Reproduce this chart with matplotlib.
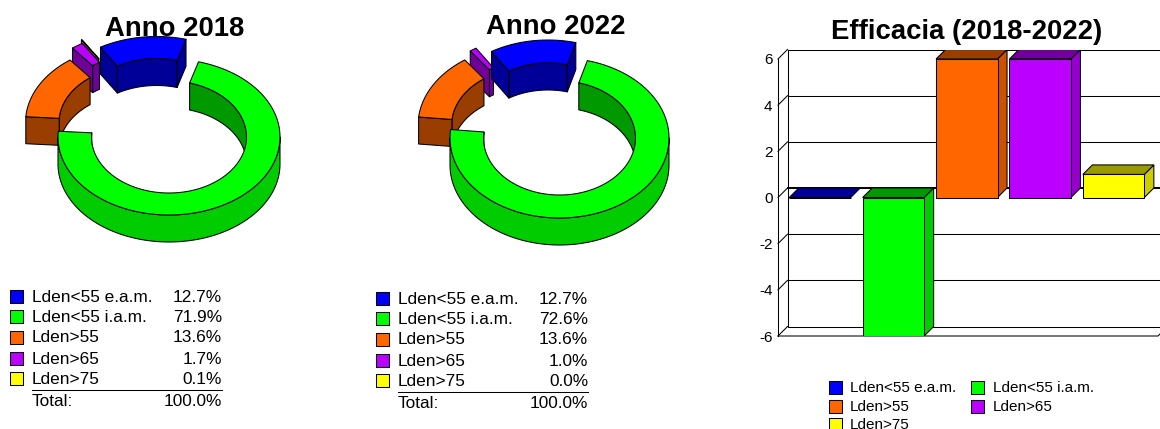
import matplotlib
matplotlib.use("Agg")
import matplotlib.pyplot as plt
import numpy as np
from matplotlib.patches import Polygon, Rectangle

plt.rcParams["font.family"] = ["Liberation Sans", "DejaVu Sans"]

labels = ["Lden<55 e.a.m.", "Lden<55 i.a.m.", "Lden>55", "Lden>65", "Lden>75"]
share_2018 = [12.7, 71.9, 13.6, 1.7, 0.1]
share_2022 = [12.7, 72.6, 13.6, 1.0, 0.0]
total_2018 = "100.0%"
total_2022 = "100.0%"
efficacy = [0.0, -6.0, 6.0, 6.0, 1.0]
y_ticks = [-6, -4, -2, 0, 2, 4, 6]
colors = ["#0000FF", "#00FF00", "#FF6600", "#BB00FF", "#FFFF00"]

W, H = 1160, 429
DEPTH = 27
LW = 0.75


def shade(col, k):
    return tuple(c * k for c in matplotlib.colors.to_rgb(col))


def arc(cx, cy, rx, ry, t0, t1, dy=0):
    # angles in degrees, clockwise from the top of the ellipse
    t = np.radians(np.linspace(t0, t1, max(2, int(abs(t1 - t0) * 2))))
    return np.column_stack([cx + rx * np.sin(t), cy - ry * np.cos(t) + dy])


def poly(ax, pts, fc, z):
    ax.add_patch(Polygon(pts, closed=True, fc=fc, ec="black", lw=LW, zorder=z, joinstyle="round"))


def draw_slice(ax, c, t0, t1, radii, col, z):
    cx, cy = c
    rx, ry, ix, iy = radii
    dark = shade(col, 0.6)
    # inner wall shows where it faces the viewer (top half of the ring)
    n = np.floor((t0 + 90) / 360)
    for k in (n - 1, n, n + 1):
        a, b = max(t0, 360 * k - 90), min(t1, 360 * k + 90)
        if b > a:
            poly(ax, np.vstack([arc(cx, cy, ix, iy, a, b), arc(cx, cy, ix, iy, b, a, DEPTH)]), dark, z)
    # end caps
    if np.sin(np.radians(t0)) < 0:
        p = np.vstack([arc(cx, cy, rx, ry, t0, t0)[:1], arc(cx, cy, ix, iy, t0, t0)[:1]])
        poly(ax, np.vstack([p, p[::-1] + [0, DEPTH]]), dark, z)
    if np.sin(np.radians(t1)) > 0:
        p = np.vstack([arc(cx, cy, rx, ry, t1, t1)[:1], arc(cx, cy, ix, iy, t1, t1)[:1]])
        poly(ax, np.vstack([p, p[::-1] + [0, DEPTH]]), dark, z)
    # outer wall (front half)
    a, b = max(t0, 90), min(t1, 270)
    if b > a:
        poly(ax, np.vstack([arc(cx, cy, rx, ry, a, b), arc(cx, cy, rx, ry, b, a, DEPTH)]), shade(col, 0.8), z)
    poly(ax, np.vstack([arc(cx, cy, rx, ry, t0, t1), arc(cx, cy, ix, iy, t1, t0)]), col, z)


def draw_donut(ax, shares, start, centres, radii, order):
    spans = []
    t = start
    for v in shares:
        spans.append((t, t + v * 3.6))
        t += v * 3.6
    for z, i in enumerate(order):
        if shares[i] <= 0:
            continue
        draw_slice(ax, centres[i], spans[i][0], spans[i][1], radii, colors[i], 5 + z)


def draw_legend(ax, shares, total, sq_x, txt_x, right, rows, rule_y, total_y):
    for i, lab in enumerate(labels):
        ax.add_patch(Rectangle((sq_x, rows[i] - 6.5), 13, 13, fc=colors[i], ec="black", lw=LW))
        ax.text(txt_x, rows[i] + 1, lab, fontsize=12.4, va="center", ha="left")
        ax.text(right, rows[i] + 1, f"{shares[i]:.1f}%", fontsize=12.4, va="center", ha="right")
    ax.plot([txt_x, right], [rule_y, rule_y], color="black", lw=LW)
    ax.text(txt_x, total_y + 1, "Total:", fontsize=12.4, va="center", ha="left")
    ax.text(right, total_y + 1, total, fontsize=12.4, va="center", ha="right")


fig = plt.figure(figsize=(W / 100, H / 100), dpi=100)
ax = fig.add_axes([0, 0, 1, 1])
ax.set_xlim(0, W)
ax.set_ylim(H, 0)
ax.axis("off")

ax.text(174.5, 29, "Anno 2018", fontsize=19.8, fontweight="bold", ha="center", va="center", zorder=1)
ax.text(556, 27, "Anno 2022", fontsize=19.8, fontweight="bold", ha="center", va="center", zorder=1)
ax.text(966.5, 32, "Efficacia (2018-2022)", fontsize=19.8, fontweight="bold", ha="center", va="center", zorder=1)

# one exploded centre per slice, back to front: blue, yellow, purple, orange, green
draw_donut(ax, share_2018, -30.3,
           [(156.5, 114.5), (169, 137), (136.5, 122.5), (139, 110.5), (138, 107)],
           (111, 78, 77.5, 56), [4, 3, 0, 2, 1])
draw_donut(ax, share_2022, -31,
           [(548, 120), (559.5, 138), (527.5, 125.5), (533, 116.5), (533, 114)],
           (109.5, 80, 76, 57), [4, 3, 0, 2, 1])

draw_legend(ax, share_2018, total_2018, 10, 32, 222, [296, 316, 337, 358, 378], 390, 401)
draw_legend(ax, share_2022, total_2022, 376, 398, 588, [298, 318, 339, 360, 380], 392, 403)

sq_x = [829, 971, 829, 971, 829]
tx_x = [850, 993, 850, 993, 850]
rows3 = [387, 387, 406, 406, 424]
for i, lab in enumerate(labels):
    ax.add_patch(Rectangle((sq_x[i], rows3[i] - 6.5), 13, 13, fc=colors[i], ec="black", lw=LW))
    ax.text(tx_x[i], rows3[i] + 1, lab, fontsize=11, va="center", ha="left")

# bar chart: axes span the front plane plus room for the 3d offset
OFF = 9.5
PX_Y = 277 / 12.0
PITCH = 73.4
x0_px, x1_px = 778, W
top_px, bot_px = 59 - OFF, 336
bx = fig.add_axes([x0_px / W, 1 - bot_px / H, (x1_px - x0_px) / W, (bot_px - top_px) / H])
bx.patch.set_alpha(0)
bx.set_xlim((x0_px - 820) / PITCH, (x1_px - 820) / PITCH)
bx.set_ylim(-6, 6 + OFF / PX_Y)
for s in bx.spines.values():
    s.set_visible(False)
bx.set_xticks([])
bx.set_yticks(y_ticks)
bx.tick_params(axis="y", length=0, pad=4, labelsize=11)
bx.set_yticklabels([str(v) for v in y_ticks])
for t in bx.get_yticklabels():
    t.set_clip_on(False)

dx, dy = OFF / PITCH, OFF / PX_Y
x_left = bx.get_xlim()[0]
x_right = bx.get_xlim()[0] + (1158 - 778) / PITCH
for v in y_ticks:
    bx.plot([x_left, x_left + dx], [v, v + dy], color="black", lw=LW, zorder=1, clip_on=False)
    if v == 0:
        bx.plot([x_left + dx, bx.get_xlim()[1]], [v + dy, v + dy], color="black", lw=1.4, zorder=1)
    else:
        bx.plot([x_left + dx, bx.get_xlim()[1]], [v + dy, v + dy], color="black", lw=LW, zorder=1)
bx.plot([x_left, x_left], [-6, 6], color="black", lw=LW, zorder=1, clip_on=False)
bx.plot([x_left + dx, x_left + dx], [-6 + dy, 6 + dy], color="black", lw=LW, zorder=1, clip_on=False)
bx.plot([x_left, x_right, x_right + dx], [-6, -6, -6 + dy], color="black", lw=LW, zorder=1, clip_on=False)

x = np.arange(len(efficacy))
bar_w = 61.5 / PITCH
for i, v in enumerate(efficacy):
    lo, hi = min(0, v), max(0, v)
    l, r = x[i] - bar_w / 2, x[i] + bar_w / 2
    if hi > lo:
        bx.add_patch(Polygon([(r, lo), (r + dx, lo + dy), (r + dx, hi + dy), (r, hi)], fc=shade(colors[i], 0.8),
                             ec="black", lw=LW, zorder=3))
    bx.add_patch(Polygon([(l, hi), (l + dx, hi + dy), (r + dx, hi + dy), (r, hi)], fc=shade(colors[i], 0.6),
                         ec="black", lw=LW, zorder=3))
bx.bar(x, efficacy, width=bar_w, color=colors, edgecolor="black", linewidth=LW, zorder=4)

fig.savefig("out.png", dpi=100)
